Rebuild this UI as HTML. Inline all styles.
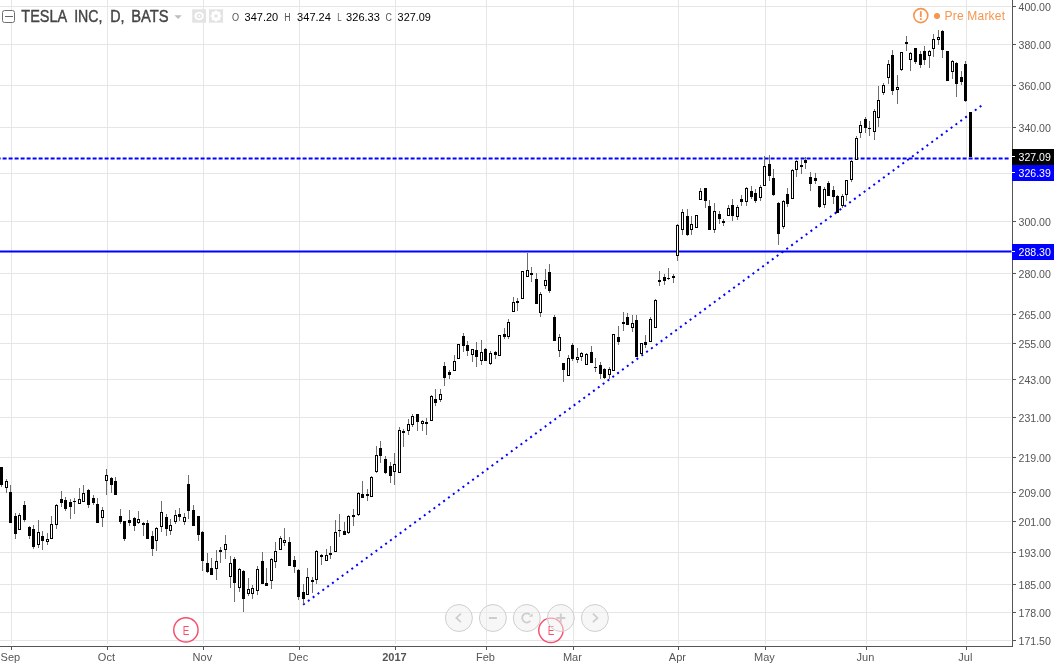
<!DOCTYPE html>
<html><head><meta charset="utf-8"><title>TESLA INC, D, BATS</title>
<style>html,body{margin:0;padding:0;background:#fff;}body{width:1054px;height:665px;overflow:hidden;font-family:"Liberation Sans",Arial,sans-serif;}svg{display:block;will-change:transform;opacity:0.999}text{font-family:"Liberation Sans",Arial,sans-serif;}</style>
</head><body>
<svg width="1054" height="665" viewBox="0 0 1054 665">
<rect width="1054" height="665" fill="#fff"/>
<g shape-rendering="crispEdges" fill="#e6e6e6">
<rect x="0" y="6" width="1011" height="1"/>
<rect x="0" y="44" width="1011" height="1"/>
<rect x="0" y="85" width="1011" height="1"/>
<rect x="0" y="127" width="1011" height="1"/>
<rect x="0" y="173" width="1011" height="1"/>
<rect x="0" y="221" width="1011" height="1"/>
<rect x="0" y="273" width="1011" height="1"/>
<rect x="0" y="314" width="1011" height="1"/>
<rect x="0" y="343" width="1011" height="1"/>
<rect x="0" y="379" width="1011" height="1"/>
<rect x="0" y="417" width="1011" height="1"/>
<rect x="0" y="457" width="1011" height="1"/>
<rect x="0" y="492" width="1011" height="1"/>
<rect x="0" y="521" width="1011" height="1"/>
<rect x="0" y="552" width="1011" height="1"/>
<rect x="0" y="584" width="1011" height="1"/>
<rect x="0" y="612" width="1011" height="1"/>
<rect x="0" y="640" width="1011" height="1"/>
<rect x="11" y="0" width="1" height="644"/>
<rect x="107" y="0" width="1" height="644"/>
<rect x="203" y="0" width="1" height="644"/>
<rect x="299" y="0" width="1" height="644"/>
<rect x="395" y="0" width="1" height="644"/>
<rect x="486" y="0" width="1" height="644"/>
<rect x="573" y="0" width="1" height="644"/>
<rect x="678" y="0" width="1" height="644"/>
<rect x="765" y="0" width="1" height="644"/>
<rect x="866" y="0" width="1" height="644"/>
<rect x="966" y="0" width="1" height="644"/>
</g>
<line x1="0" y1="251.5" x2="1011.5" y2="251.5" stroke="#0000ff" stroke-width="2"/>
<line x1="-3.4" y1="158.4" x2="1009" y2="158.4" stroke="#0000ff" stroke-width="2" stroke-dasharray="4 2"/>
<line x1="303.1" y1="604.7" x2="982.6" y2="104.8" stroke="#0000ff" stroke-width="2" stroke-dasharray="2 4"/>
<g shape-rendering="crispEdges" fill="#000">
<rect x="1" y="467" width="1" height="20" fill="#6e6e70"/>
<rect x="0" y="467" width="3" height="18"/>
<rect x="6" y="479" width="1" height="14" fill="#6e6e70"/>
<rect x="5" y="481" width="3" height="7"/>
<rect x="6" y="482" width="1" height="5" fill="#fff"/>
<rect x="10" y="485" width="1" height="38" fill="#6e6e70"/>
<rect x="9" y="492" width="3" height="31"/>
<rect x="15" y="513" width="1" height="26" fill="#6e6e70"/>
<rect x="14" y="516" width="3" height="18"/>
<rect x="19" y="513" width="1" height="17" fill="#6e6e70"/>
<rect x="18" y="515" width="3" height="15"/>
<rect x="19" y="516" width="1" height="13" fill="#fff"/>
<rect x="24" y="501" width="1" height="21" fill="#6e6e70"/>
<rect x="23" y="505" width="3" height="15"/>
<rect x="29" y="526" width="1" height="13" fill="#6e6e70"/>
<rect x="28" y="527" width="3" height="9"/>
<rect x="33" y="525" width="1" height="24" fill="#6e6e70"/>
<rect x="32" y="529" width="3" height="18"/>
<rect x="38" y="520" width="1" height="28" fill="#6e6e70"/>
<rect x="37" y="532" width="3" height="13"/>
<rect x="38" y="533" width="1" height="11" fill="#fff"/>
<rect x="42" y="531" width="1" height="19" fill="#6e6e70"/>
<rect x="41" y="536" width="3" height="5"/>
<rect x="47" y="533" width="1" height="12" fill="#6e6e70"/>
<rect x="46" y="539" width="3" height="3"/>
<rect x="47" y="540" width="1" height="1" fill="#fff"/>
<rect x="51" y="516" width="1" height="23" fill="#6e6e70"/>
<rect x="50" y="524" width="3" height="15"/>
<rect x="51" y="525" width="1" height="13" fill="#fff"/>
<rect x="56" y="504" width="1" height="25" fill="#6e6e70"/>
<rect x="55" y="505" width="3" height="20"/>
<rect x="56" y="506" width="1" height="18" fill="#fff"/>
<rect x="61" y="491" width="1" height="16" fill="#6e6e70"/>
<rect x="60" y="499" width="3" height="4"/>
<rect x="65" y="497" width="1" height="14" fill="#6e6e70"/>
<rect x="64" y="500" width="3" height="9"/>
<rect x="70" y="499" width="1" height="20" fill="#6e6e70"/>
<rect x="69" y="502" width="3" height="5"/>
<rect x="74" y="498" width="1" height="16" fill="#6e6e70"/>
<rect x="73" y="501" width="3" height="1"/>
<rect x="79" y="488" width="1" height="16" fill="#6e6e70"/>
<rect x="78" y="499" width="3" height="5"/>
<rect x="79" y="500" width="1" height="3" fill="#fff"/>
<rect x="83" y="485" width="1" height="17" fill="#6e6e70"/>
<rect x="82" y="493" width="3" height="9"/>
<rect x="83" y="494" width="1" height="7" fill="#fff"/>
<rect x="88" y="489" width="1" height="19" fill="#6e6e70"/>
<rect x="87" y="490" width="3" height="15"/>
<rect x="93" y="495" width="1" height="10" fill="#6e6e70"/>
<rect x="92" y="498" width="3" height="5"/>
<rect x="97" y="498" width="1" height="25" fill="#6e6e70"/>
<rect x="96" y="504" width="3" height="19"/>
<rect x="102" y="507" width="1" height="20" fill="#6e6e70"/>
<rect x="101" y="510" width="3" height="8"/>
<rect x="102" y="511" width="1" height="6" fill="#fff"/>
<rect x="106" y="469" width="1" height="26" fill="#6e6e70"/>
<rect x="105" y="475" width="3" height="6"/>
<rect x="106" y="476" width="1" height="4" fill="#fff"/>
<rect x="111" y="477" width="1" height="16" fill="#6e6e70"/>
<rect x="110" y="478" width="3" height="7"/>
<rect x="115" y="477" width="1" height="18" fill="#6e6e70"/>
<rect x="114" y="481" width="3" height="14"/>
<rect x="120" y="509" width="1" height="15" fill="#6e6e70"/>
<rect x="119" y="516" width="3" height="6"/>
<rect x="124" y="521" width="1" height="20" fill="#6e6e70"/>
<rect x="123" y="521" width="3" height="18"/>
<rect x="129" y="510" width="1" height="16" fill="#6e6e70"/>
<rect x="128" y="520" width="3" height="3"/>
<rect x="134" y="517" width="1" height="14" fill="#6e6e70"/>
<rect x="133" y="518" width="3" height="8"/>
<rect x="138" y="511" width="1" height="13" fill="#6e6e70"/>
<rect x="137" y="519" width="3" height="4"/>
<rect x="138" y="520" width="1" height="2" fill="#fff"/>
<rect x="143" y="522" width="1" height="14" fill="#6e6e70"/>
<rect x="142" y="523" width="3" height="2"/>
<rect x="147" y="520" width="1" height="19" fill="#6e6e70"/>
<rect x="146" y="523" width="3" height="16"/>
<rect x="152" y="531" width="1" height="25" fill="#6e6e70"/>
<rect x="151" y="536" width="3" height="13"/>
<rect x="156" y="527" width="1" height="24" fill="#6e6e70"/>
<rect x="155" y="528" width="3" height="13"/>
<rect x="156" y="529" width="1" height="11" fill="#fff"/>
<rect x="161" y="501" width="1" height="31" fill="#6e6e70"/>
<rect x="160" y="512" width="3" height="15"/>
<rect x="161" y="513" width="1" height="13" fill="#fff"/>
<rect x="166" y="514" width="1" height="22" fill="#6e6e70"/>
<rect x="165" y="517" width="3" height="12"/>
<rect x="170" y="519" width="1" height="16" fill="#6e6e70"/>
<rect x="169" y="525" width="3" height="6"/>
<rect x="170" y="526" width="1" height="4" fill="#fff"/>
<rect x="175" y="510" width="1" height="14" fill="#6e6e70"/>
<rect x="174" y="515" width="3" height="7"/>
<rect x="175" y="516" width="1" height="5" fill="#fff"/>
<rect x="179" y="508" width="1" height="13" fill="#6e6e70"/>
<rect x="178" y="514" width="3" height="3"/>
<rect x="184" y="513" width="1" height="12" fill="#6e6e70"/>
<rect x="183" y="517" width="3" height="5"/>
<rect x="184" y="518" width="1" height="3" fill="#fff"/>
<rect x="188" y="475" width="1" height="44" fill="#6e6e70"/>
<rect x="187" y="484" width="3" height="27"/>
<rect x="193" y="505" width="1" height="21" fill="#6e6e70"/>
<rect x="192" y="510" width="3" height="16"/>
<rect x="198" y="516" width="1" height="25" fill="#6e6e70"/>
<rect x="197" y="516" width="3" height="19"/>
<rect x="202" y="531" width="1" height="40" fill="#6e6e70"/>
<rect x="201" y="532" width="3" height="29"/>
<rect x="207" y="553" width="1" height="20" fill="#6e6e70"/>
<rect x="206" y="563" width="3" height="9"/>
<rect x="211" y="558" width="1" height="17" fill="#6e6e70"/>
<rect x="210" y="568" width="3" height="7"/>
<rect x="216" y="550" width="1" height="30" fill="#6e6e70"/>
<rect x="215" y="561" width="3" height="8"/>
<rect x="216" y="562" width="1" height="6" fill="#fff"/>
<rect x="220" y="547" width="1" height="16" fill="#6e6e70"/>
<rect x="219" y="550" width="3" height="2"/>
<rect x="225" y="535" width="1" height="24" fill="#6e6e70"/>
<rect x="224" y="544" width="3" height="6"/>
<rect x="225" y="545" width="1" height="4" fill="#fff"/>
<rect x="230" y="556" width="1" height="32" fill="#6e6e70"/>
<rect x="229" y="563" width="3" height="14"/>
<rect x="230" y="564" width="1" height="12" fill="#fff"/>
<rect x="234" y="557" width="1" height="45" fill="#6e6e70"/>
<rect x="233" y="559" width="3" height="24"/>
<rect x="239" y="568" width="1" height="24" fill="#6e6e70"/>
<rect x="238" y="569" width="3" height="19"/>
<rect x="239" y="570" width="1" height="17" fill="#fff"/>
<rect x="243" y="570" width="1" height="42" fill="#6e6e70"/>
<rect x="242" y="571" width="3" height="28"/>
<rect x="248" y="578" width="1" height="18" fill="#6e6e70"/>
<rect x="247" y="589" width="3" height="5"/>
<rect x="248" y="590" width="1" height="3" fill="#fff"/>
<rect x="252" y="585" width="1" height="14" fill="#6e6e70"/>
<rect x="251" y="588" width="3" height="6"/>
<rect x="252" y="589" width="1" height="4" fill="#fff"/>
<rect x="257" y="566" width="1" height="29" fill="#6e6e70"/>
<rect x="256" y="569" width="3" height="22"/>
<rect x="257" y="570" width="1" height="20" fill="#fff"/>
<rect x="262" y="552" width="1" height="32" fill="#6e6e70"/>
<rect x="261" y="561" width="3" height="23"/>
<rect x="266" y="568" width="1" height="18" fill="#6e6e70"/>
<rect x="265" y="583" width="3" height="3"/>
<rect x="271" y="558" width="1" height="31" fill="#6e6e70"/>
<rect x="270" y="559" width="3" height="22"/>
<rect x="271" y="560" width="1" height="20" fill="#fff"/>
<rect x="275" y="542" width="1" height="26" fill="#6e6e70"/>
<rect x="274" y="551" width="3" height="11"/>
<rect x="275" y="552" width="1" height="9" fill="#fff"/>
<rect x="280" y="536" width="1" height="14" fill="#6e6e70"/>
<rect x="279" y="538" width="3" height="12"/>
<rect x="280" y="539" width="1" height="10" fill="#fff"/>
<rect x="284" y="528" width="1" height="18" fill="#6e6e70"/>
<rect x="283" y="540" width="3" height="3"/>
<rect x="284" y="541" width="1" height="1" fill="#fff"/>
<rect x="289" y="537" width="1" height="29" fill="#6e6e70"/>
<rect x="288" y="542" width="3" height="24"/>
<rect x="294" y="556" width="1" height="17" fill="#6e6e70"/>
<rect x="293" y="560" width="3" height="7"/>
<rect x="298" y="569" width="1" height="31" fill="#6e6e70"/>
<rect x="297" y="570" width="3" height="27"/>
<rect x="303" y="584" width="1" height="20" fill="#6e6e70"/>
<rect x="302" y="592" width="3" height="7"/>
<rect x="307" y="568" width="1" height="27" fill="#6e6e70"/>
<rect x="306" y="577" width="3" height="18"/>
<rect x="307" y="578" width="1" height="16" fill="#fff"/>
<rect x="312" y="577" width="1" height="16" fill="#6e6e70"/>
<rect x="311" y="580" width="3" height="2"/>
<rect x="316" y="550" width="1" height="34" fill="#6e6e70"/>
<rect x="315" y="551" width="3" height="29"/>
<rect x="316" y="552" width="1" height="27" fill="#fff"/>
<rect x="321" y="554" width="1" height="11" fill="#6e6e70"/>
<rect x="320" y="555" width="3" height="2"/>
<rect x="326" y="549" width="1" height="12" fill="#6e6e70"/>
<rect x="325" y="555" width="3" height="6"/>
<rect x="326" y="556" width="1" height="4" fill="#fff"/>
<rect x="330" y="546" width="1" height="13" fill="#6e6e70"/>
<rect x="329" y="553" width="3" height="2"/>
<rect x="335" y="520" width="1" height="32" fill="#6e6e70"/>
<rect x="334" y="532" width="3" height="20"/>
<rect x="335" y="533" width="1" height="18" fill="#fff"/>
<rect x="339" y="514" width="1" height="23" fill="#6e6e70"/>
<rect x="338" y="530" width="3" height="1"/>
<rect x="344" y="522" width="1" height="13" fill="#6e6e70"/>
<rect x="343" y="531" width="3" height="4"/>
<rect x="348" y="515" width="1" height="19" fill="#6e6e70"/>
<rect x="347" y="516" width="3" height="17"/>
<rect x="348" y="517" width="1" height="15" fill="#fff"/>
<rect x="353" y="509" width="1" height="17" fill="#6e6e70"/>
<rect x="352" y="515" width="3" height="2"/>
<rect x="358" y="492" width="1" height="24" fill="#6e6e70"/>
<rect x="357" y="493" width="3" height="22"/>
<rect x="358" y="494" width="1" height="20" fill="#fff"/>
<rect x="362" y="481" width="1" height="17" fill="#6e6e70"/>
<rect x="361" y="494" width="3" height="4"/>
<rect x="367" y="489" width="1" height="12" fill="#6e6e70"/>
<rect x="366" y="494" width="3" height="2"/>
<rect x="371" y="476" width="1" height="21" fill="#6e6e70"/>
<rect x="370" y="477" width="3" height="20"/>
<rect x="371" y="478" width="1" height="18" fill="#fff"/>
<rect x="376" y="446" width="1" height="27" fill="#6e6e70"/>
<rect x="375" y="455" width="3" height="17"/>
<rect x="376" y="456" width="1" height="15" fill="#fff"/>
<rect x="380" y="441" width="1" height="22" fill="#6e6e70"/>
<rect x="379" y="448" width="3" height="8"/>
<rect x="385" y="456" width="1" height="18" fill="#6e6e70"/>
<rect x="384" y="459" width="3" height="14"/>
<rect x="390" y="462" width="1" height="21" fill="#6e6e70"/>
<rect x="389" y="466" width="3" height="10"/>
<rect x="394" y="453" width="1" height="32" fill="#6e6e70"/>
<rect x="393" y="464" width="3" height="8"/>
<rect x="394" y="465" width="1" height="6" fill="#fff"/>
<rect x="399" y="427" width="1" height="46" fill="#6e6e70"/>
<rect x="398" y="430" width="3" height="43"/>
<rect x="399" y="431" width="1" height="41" fill="#fff"/>
<rect x="403" y="429" width="1" height="18" fill="#6e6e70"/>
<rect x="402" y="431" width="3" height="2"/>
<rect x="408" y="419" width="1" height="16" fill="#6e6e70"/>
<rect x="407" y="424" width="3" height="7"/>
<rect x="408" y="425" width="1" height="5" fill="#fff"/>
<rect x="412" y="414" width="1" height="13" fill="#6e6e70"/>
<rect x="411" y="416" width="3" height="9"/>
<rect x="412" y="417" width="1" height="7" fill="#fff"/>
<rect x="417" y="414" width="1" height="17" fill="#6e6e70"/>
<rect x="416" y="414" width="3" height="8"/>
<rect x="422" y="420" width="1" height="11" fill="#6e6e70"/>
<rect x="421" y="421" width="3" height="3"/>
<rect x="422" y="422" width="1" height="1" fill="#fff"/>
<rect x="426" y="418" width="1" height="17" fill="#6e6e70"/>
<rect x="425" y="422" width="3" height="2"/>
<rect x="431" y="395" width="1" height="26" fill="#6e6e70"/>
<rect x="430" y="396" width="3" height="25"/>
<rect x="431" y="397" width="1" height="23" fill="#fff"/>
<rect x="435" y="389" width="1" height="17" fill="#6e6e70"/>
<rect x="434" y="399" width="3" height="4"/>
<rect x="440" y="389" width="1" height="13" fill="#6e6e70"/>
<rect x="439" y="394" width="3" height="6"/>
<rect x="440" y="395" width="1" height="4" fill="#fff"/>
<rect x="444" y="362" width="1" height="24" fill="#6e6e70"/>
<rect x="443" y="366" width="3" height="12"/>
<rect x="449" y="370" width="1" height="9" fill="#6e6e70"/>
<rect x="448" y="372" width="3" height="3"/>
<rect x="454" y="355" width="1" height="16" fill="#6e6e70"/>
<rect x="453" y="361" width="3" height="10"/>
<rect x="454" y="362" width="1" height="8" fill="#fff"/>
<rect x="458" y="344" width="1" height="15" fill="#6e6e70"/>
<rect x="457" y="344" width="3" height="15"/>
<rect x="458" y="345" width="1" height="13" fill="#fff"/>
<rect x="463" y="333" width="1" height="19" fill="#6e6e70"/>
<rect x="462" y="336" width="3" height="10"/>
<rect x="467" y="341" width="1" height="15" fill="#6e6e70"/>
<rect x="466" y="345" width="3" height="6"/>
<rect x="472" y="349" width="1" height="13" fill="#6e6e70"/>
<rect x="471" y="349" width="3" height="6"/>
<rect x="472" y="350" width="1" height="4" fill="#fff"/>
<rect x="476" y="342" width="1" height="25" fill="#6e6e70"/>
<rect x="475" y="350" width="3" height="7"/>
<rect x="481" y="340" width="1" height="25" fill="#6e6e70"/>
<rect x="480" y="352" width="3" height="9"/>
<rect x="481" y="353" width="1" height="7" fill="#fff"/>
<rect x="485" y="348" width="1" height="13" fill="#6e6e70"/>
<rect x="484" y="349" width="3" height="12"/>
<rect x="490" y="351" width="1" height="14" fill="#6e6e70"/>
<rect x="489" y="353" width="3" height="11"/>
<rect x="490" y="354" width="1" height="9" fill="#fff"/>
<rect x="495" y="351" width="1" height="8" fill="#6e6e70"/>
<rect x="494" y="352" width="3" height="3"/>
<rect x="499" y="335" width="1" height="21" fill="#6e6e70"/>
<rect x="498" y="335" width="3" height="21"/>
<rect x="499" y="336" width="1" height="19" fill="#fff"/>
<rect x="504" y="328" width="1" height="11" fill="#6e6e70"/>
<rect x="503" y="334" width="3" height="3"/>
<rect x="508" y="319" width="1" height="20" fill="#6e6e70"/>
<rect x="507" y="322" width="3" height="15"/>
<rect x="508" y="323" width="1" height="13" fill="#fff"/>
<rect x="513" y="297" width="1" height="15" fill="#6e6e70"/>
<rect x="512" y="302" width="3" height="10"/>
<rect x="513" y="303" width="1" height="8" fill="#fff"/>
<rect x="517" y="298" width="1" height="13" fill="#6e6e70"/>
<rect x="516" y="301" width="3" height="2"/>
<rect x="522" y="271" width="1" height="28" fill="#6e6e70"/>
<rect x="521" y="271" width="3" height="28"/>
<rect x="522" y="272" width="1" height="26" fill="#fff"/>
<rect x="527" y="253" width="1" height="24" fill="#6e6e70"/>
<rect x="526" y="270" width="3" height="7"/>
<rect x="527" y="271" width="1" height="5" fill="#fff"/>
<rect x="531" y="267" width="1" height="15" fill="#6e6e70"/>
<rect x="530" y="273" width="3" height="2"/>
<rect x="536" y="273" width="1" height="31" fill="#6e6e70"/>
<rect x="535" y="279" width="3" height="25"/>
<rect x="540" y="292" width="1" height="25" fill="#6e6e70"/>
<rect x="539" y="294" width="3" height="19"/>
<rect x="540" y="295" width="1" height="17" fill="#fff"/>
<rect x="545" y="269" width="1" height="20" fill="#6e6e70"/>
<rect x="544" y="280" width="3" height="6"/>
<rect x="545" y="281" width="1" height="4" fill="#fff"/>
<rect x="549" y="264" width="1" height="29" fill="#6e6e70"/>
<rect x="548" y="272" width="3" height="19"/>
<rect x="554" y="315" width="1" height="26" fill="#6e6e70"/>
<rect x="553" y="317" width="3" height="24"/>
<rect x="559" y="334" width="1" height="23" fill="#6e6e70"/>
<rect x="558" y="337" width="3" height="14"/>
<rect x="559" y="338" width="1" height="12" fill="#fff"/>
<rect x="563" y="363" width="1" height="19" fill="#6e6e70"/>
<rect x="562" y="363" width="3" height="7"/>
<rect x="568" y="355" width="1" height="21" fill="#6e6e70"/>
<rect x="567" y="358" width="3" height="18"/>
<rect x="568" y="359" width="1" height="16" fill="#fff"/>
<rect x="572" y="343" width="1" height="18" fill="#6e6e70"/>
<rect x="571" y="345" width="3" height="14"/>
<rect x="577" y="348" width="1" height="15" fill="#6e6e70"/>
<rect x="576" y="357" width="3" height="3"/>
<rect x="577" y="358" width="1" height="1" fill="#fff"/>
<rect x="581" y="352" width="1" height="9" fill="#6e6e70"/>
<rect x="580" y="353" width="3" height="4"/>
<rect x="581" y="354" width="1" height="2" fill="#fff"/>
<rect x="586" y="353" width="1" height="12" fill="#6e6e70"/>
<rect x="585" y="354" width="3" height="11"/>
<rect x="586" y="355" width="1" height="9" fill="#fff"/>
<rect x="591" y="346" width="1" height="17" fill="#6e6e70"/>
<rect x="590" y="352" width="3" height="11"/>
<rect x="595" y="358" width="1" height="14" fill="#6e6e70"/>
<rect x="594" y="367" width="3" height="1"/>
<rect x="600" y="362" width="1" height="17" fill="#6e6e70"/>
<rect x="599" y="365" width="3" height="9"/>
<rect x="604" y="368" width="1" height="11" fill="#6e6e70"/>
<rect x="603" y="369" width="3" height="9"/>
<rect x="609" y="367" width="1" height="12" fill="#6e6e70"/>
<rect x="608" y="369" width="3" height="6"/>
<rect x="609" y="370" width="1" height="4" fill="#fff"/>
<rect x="613" y="334" width="1" height="37" fill="#6e6e70"/>
<rect x="612" y="334" width="3" height="37"/>
<rect x="613" y="335" width="1" height="35" fill="#fff"/>
<rect x="618" y="326" width="1" height="19" fill="#6e6e70"/>
<rect x="617" y="337" width="3" height="5"/>
<rect x="623" y="312" width="1" height="19" fill="#6e6e70"/>
<rect x="622" y="322" width="3" height="2"/>
<rect x="627" y="313" width="1" height="12" fill="#6e6e70"/>
<rect x="626" y="317" width="3" height="8"/>
<rect x="632" y="315" width="1" height="17" fill="#6e6e70"/>
<rect x="631" y="323" width="3" height="5"/>
<rect x="632" y="324" width="1" height="3" fill="#fff"/>
<rect x="636" y="315" width="1" height="42" fill="#6e6e70"/>
<rect x="635" y="320" width="3" height="37"/>
<rect x="641" y="343" width="1" height="13" fill="#6e6e70"/>
<rect x="640" y="343" width="3" height="11"/>
<rect x="641" y="344" width="1" height="9" fill="#fff"/>
<rect x="645" y="335" width="1" height="13" fill="#6e6e70"/>
<rect x="644" y="342" width="3" height="3"/>
<rect x="650" y="317" width="1" height="25" fill="#6e6e70"/>
<rect x="649" y="319" width="3" height="23"/>
<rect x="650" y="320" width="1" height="21" fill="#fff"/>
<rect x="655" y="299" width="1" height="29" fill="#6e6e70"/>
<rect x="654" y="300" width="3" height="28"/>
<rect x="655" y="301" width="1" height="26" fill="#fff"/>
<rect x="659" y="271" width="1" height="15" fill="#6e6e70"/>
<rect x="658" y="280" width="3" height="2"/>
<rect x="664" y="274" width="1" height="11" fill="#6e6e70"/>
<rect x="663" y="277" width="3" height="4"/>
<rect x="668" y="268" width="1" height="12" fill="#6e6e70"/>
<rect x="667" y="278" width="3" height="1"/>
<rect x="673" y="274" width="1" height="9" fill="#6e6e70"/>
<rect x="672" y="276" width="3" height="2"/>
<rect x="677" y="224" width="1" height="37" fill="#6e6e70"/>
<rect x="676" y="225" width="3" height="31"/>
<rect x="677" y="226" width="1" height="29" fill="#fff"/>
<rect x="682" y="209" width="1" height="26" fill="#6e6e70"/>
<rect x="681" y="212" width="3" height="18"/>
<rect x="682" y="213" width="1" height="16" fill="#fff"/>
<rect x="687" y="209" width="1" height="27" fill="#6e6e70"/>
<rect x="686" y="216" width="3" height="19"/>
<rect x="691" y="216" width="1" height="19" fill="#6e6e70"/>
<rect x="690" y="224" width="3" height="6"/>
<rect x="691" y="225" width="1" height="4" fill="#fff"/>
<rect x="696" y="215" width="1" height="13" fill="#6e6e70"/>
<rect x="695" y="215" width="3" height="13"/>
<rect x="696" y="216" width="1" height="11" fill="#fff"/>
<rect x="700" y="188" width="1" height="12" fill="#6e6e70"/>
<rect x="699" y="191" width="3" height="9"/>
<rect x="700" y="192" width="1" height="7" fill="#fff"/>
<rect x="705" y="188" width="1" height="20" fill="#6e6e70"/>
<rect x="704" y="188" width="3" height="13"/>
<rect x="709" y="200" width="1" height="30" fill="#6e6e70"/>
<rect x="708" y="206" width="3" height="24"/>
<rect x="714" y="203" width="1" height="30" fill="#6e6e70"/>
<rect x="713" y="211" width="3" height="19"/>
<rect x="714" y="212" width="1" height="17" fill="#fff"/>
<rect x="719" y="211" width="1" height="13" fill="#6e6e70"/>
<rect x="718" y="214" width="3" height="5"/>
<rect x="723" y="219" width="1" height="7" fill="#6e6e70"/>
<rect x="722" y="221" width="3" height="2"/>
<rect x="728" y="205" width="1" height="11" fill="#6e6e70"/>
<rect x="727" y="208" width="3" height="8"/>
<rect x="728" y="209" width="1" height="6" fill="#fff"/>
<rect x="732" y="199" width="1" height="22" fill="#6e6e70"/>
<rect x="731" y="205" width="3" height="11"/>
<rect x="737" y="205" width="1" height="15" fill="#6e6e70"/>
<rect x="736" y="207" width="3" height="10"/>
<rect x="737" y="208" width="1" height="8" fill="#fff"/>
<rect x="741" y="195" width="1" height="11" fill="#6e6e70"/>
<rect x="740" y="199" width="3" height="3"/>
<rect x="746" y="187" width="1" height="19" fill="#6e6e70"/>
<rect x="745" y="188" width="3" height="14"/>
<rect x="746" y="189" width="1" height="12" fill="#fff"/>
<rect x="751" y="186" width="1" height="13" fill="#6e6e70"/>
<rect x="750" y="191" width="3" height="6"/>
<rect x="755" y="189" width="1" height="14" fill="#6e6e70"/>
<rect x="754" y="193" width="3" height="8"/>
<rect x="760" y="185" width="1" height="16" fill="#6e6e70"/>
<rect x="759" y="187" width="3" height="11"/>
<rect x="760" y="188" width="1" height="9" fill="#fff"/>
<rect x="764" y="156" width="1" height="30" fill="#6e6e70"/>
<rect x="763" y="166" width="3" height="20"/>
<rect x="764" y="167" width="1" height="18" fill="#fff"/>
<rect x="769" y="155" width="1" height="26" fill="#6e6e70"/>
<rect x="768" y="164" width="3" height="12"/>
<rect x="773" y="169" width="1" height="27" fill="#6e6e70"/>
<rect x="772" y="178" width="3" height="17"/>
<rect x="778" y="202" width="1" height="43" fill="#6e6e70"/>
<rect x="777" y="203" width="3" height="31"/>
<rect x="783" y="200" width="1" height="29" fill="#6e6e70"/>
<rect x="782" y="201" width="3" height="26"/>
<rect x="783" y="202" width="1" height="24" fill="#fff"/>
<rect x="787" y="188" width="1" height="19" fill="#6e6e70"/>
<rect x="786" y="194" width="3" height="10"/>
<rect x="792" y="169" width="1" height="30" fill="#6e6e70"/>
<rect x="791" y="170" width="3" height="29"/>
<rect x="792" y="171" width="1" height="27" fill="#fff"/>
<rect x="796" y="160" width="1" height="17" fill="#6e6e70"/>
<rect x="795" y="161" width="3" height="9"/>
<rect x="796" y="162" width="1" height="7" fill="#fff"/>
<rect x="801" y="159" width="1" height="15" fill="#6e6e70"/>
<rect x="800" y="165" width="3" height="2"/>
<rect x="805" y="157" width="1" height="12" fill="#6e6e70"/>
<rect x="804" y="160" width="3" height="3"/>
<rect x="810" y="172" width="1" height="19" fill="#6e6e70"/>
<rect x="809" y="177" width="3" height="7"/>
<rect x="815" y="173" width="1" height="11" fill="#6e6e70"/>
<rect x="814" y="178" width="3" height="3"/>
<rect x="819" y="186" width="1" height="22" fill="#6e6e70"/>
<rect x="818" y="186" width="3" height="21"/>
<rect x="824" y="187" width="1" height="21" fill="#6e6e70"/>
<rect x="823" y="189" width="3" height="16"/>
<rect x="824" y="190" width="1" height="14" fill="#fff"/>
<rect x="828" y="181" width="1" height="15" fill="#6e6e70"/>
<rect x="827" y="183" width="3" height="13"/>
<rect x="833" y="186" width="1" height="18" fill="#6e6e70"/>
<rect x="832" y="190" width="3" height="7"/>
<rect x="837" y="195" width="1" height="18" fill="#6e6e70"/>
<rect x="836" y="196" width="3" height="17"/>
<rect x="842" y="194" width="1" height="14" fill="#6e6e70"/>
<rect x="841" y="196" width="3" height="10"/>
<rect x="842" y="197" width="1" height="8" fill="#fff"/>
<rect x="846" y="180" width="1" height="21" fill="#6e6e70"/>
<rect x="845" y="180" width="3" height="15"/>
<rect x="846" y="181" width="1" height="13" fill="#fff"/>
<rect x="851" y="160" width="1" height="22" fill="#6e6e70"/>
<rect x="850" y="161" width="3" height="19"/>
<rect x="851" y="162" width="1" height="17" fill="#fff"/>
<rect x="856" y="136" width="1" height="24" fill="#6e6e70"/>
<rect x="855" y="138" width="3" height="22"/>
<rect x="856" y="139" width="1" height="20" fill="#fff"/>
<rect x="860" y="121" width="1" height="17" fill="#6e6e70"/>
<rect x="859" y="125" width="3" height="8"/>
<rect x="860" y="126" width="1" height="6" fill="#fff"/>
<rect x="865" y="117" width="1" height="16" fill="#6e6e70"/>
<rect x="864" y="119" width="3" height="9"/>
<rect x="869" y="121" width="1" height="15" fill="#6e6e70"/>
<rect x="868" y="128" width="3" height="1"/>
<rect x="874" y="109" width="1" height="31" fill="#6e6e70"/>
<rect x="873" y="111" width="3" height="21"/>
<rect x="874" y="112" width="1" height="19" fill="#fff"/>
<rect x="878" y="86" width="1" height="41" fill="#6e6e70"/>
<rect x="877" y="100" width="3" height="18"/>
<rect x="878" y="101" width="1" height="16" fill="#fff"/>
<rect x="883" y="83" width="1" height="12" fill="#6e6e70"/>
<rect x="882" y="85" width="3" height="8"/>
<rect x="883" y="86" width="1" height="6" fill="#fff"/>
<rect x="888" y="60" width="1" height="24" fill="#6e6e70"/>
<rect x="887" y="64" width="3" height="14"/>
<rect x="888" y="65" width="1" height="12" fill="#fff"/>
<rect x="892" y="50" width="1" height="45" fill="#6e6e70"/>
<rect x="891" y="55" width="3" height="36"/>
<rect x="897" y="75" width="1" height="29" fill="#6e6e70"/>
<rect x="896" y="87" width="3" height="3"/>
<rect x="897" y="88" width="1" height="1" fill="#fff"/>
<rect x="901" y="52" width="1" height="19" fill="#6e6e70"/>
<rect x="900" y="52" width="3" height="18"/>
<rect x="901" y="53" width="1" height="16" fill="#fff"/>
<rect x="906" y="36" width="1" height="15" fill="#6e6e70"/>
<rect x="905" y="42" width="3" height="2"/>
<rect x="910" y="52" width="1" height="19" fill="#6e6e70"/>
<rect x="909" y="53" width="3" height="7"/>
<rect x="910" y="54" width="1" height="5" fill="#fff"/>
<rect x="915" y="48" width="1" height="16" fill="#6e6e70"/>
<rect x="914" y="48" width="3" height="14"/>
<rect x="920" y="51" width="1" height="17" fill="#6e6e70"/>
<rect x="919" y="54" width="3" height="11"/>
<rect x="924" y="46" width="1" height="19" fill="#6e6e70"/>
<rect x="923" y="51" width="3" height="9"/>
<rect x="929" y="50" width="1" height="18" fill="#6e6e70"/>
<rect x="928" y="51" width="3" height="5"/>
<rect x="929" y="52" width="1" height="3" fill="#fff"/>
<rect x="933" y="34" width="1" height="23" fill="#6e6e70"/>
<rect x="932" y="39" width="3" height="10"/>
<rect x="933" y="40" width="1" height="8" fill="#fff"/>
<rect x="938" y="30" width="1" height="15" fill="#6e6e70"/>
<rect x="937" y="37" width="3" height="3"/>
<rect x="938" y="38" width="1" height="1" fill="#fff"/>
<rect x="942" y="30" width="1" height="28" fill="#6e6e70"/>
<rect x="941" y="31" width="3" height="19"/>
<rect x="947" y="51" width="1" height="30" fill="#6e6e70"/>
<rect x="946" y="51" width="3" height="30"/>
<rect x="952" y="60" width="1" height="19" fill="#6e6e70"/>
<rect x="951" y="61" width="3" height="11"/>
<rect x="952" y="62" width="1" height="9" fill="#fff"/>
<rect x="956" y="62" width="1" height="35" fill="#6e6e70"/>
<rect x="955" y="63" width="3" height="21"/>
<rect x="961" y="71" width="1" height="14" fill="#6e6e70"/>
<rect x="960" y="77" width="3" height="5"/>
<rect x="965" y="61" width="1" height="41" fill="#6e6e70"/>
<rect x="964" y="64" width="3" height="37"/>
<rect x="970" y="112" width="1" height="45" fill="#6e6e70"/>
<rect x="969" y="112" width="3" height="45"/>
</g>
<g shape-rendering="crispEdges" fill="#555555">
<rect x="1012" y="0" width="1" height="647"/>
<rect x="0" y="646" width="1013" height="1"/>
<rect x="1013" y="6" width="3" height="1"/>
<rect x="1013" y="44" width="3" height="1"/>
<rect x="1013" y="85" width="3" height="1"/>
<rect x="1013" y="127" width="3" height="1"/>
<rect x="1013" y="221" width="3" height="1"/>
<rect x="1013" y="273" width="3" height="1"/>
<rect x="1013" y="314" width="3" height="1"/>
<rect x="1013" y="343" width="3" height="1"/>
<rect x="1013" y="379" width="3" height="1"/>
<rect x="1013" y="417" width="3" height="1"/>
<rect x="1013" y="457" width="3" height="1"/>
<rect x="1013" y="492" width="3" height="1"/>
<rect x="1013" y="521" width="3" height="1"/>
<rect x="1013" y="552" width="3" height="1"/>
<rect x="1013" y="584" width="3" height="1"/>
<rect x="1013" y="612" width="3" height="1"/>
<rect x="1013" y="640" width="3" height="1"/>
<rect x="11" y="647" width="1" height="3"/>
<rect x="107" y="647" width="1" height="3"/>
<rect x="203" y="647" width="1" height="3"/>
<rect x="299" y="647" width="1" height="3"/>
<rect x="395" y="647" width="1" height="3"/>
<rect x="486" y="647" width="1" height="3"/>
<rect x="573" y="647" width="1" height="3"/>
<rect x="678" y="647" width="1" height="3"/>
<rect x="765" y="647" width="1" height="3"/>
<rect x="866" y="647" width="1" height="3"/>
<rect x="966" y="647" width="1" height="3"/>
</g>
<g font-size="11" fill="#555">
<text x="1018.5" y="11.0" textLength="32.4" lengthAdjust="spacingAndGlyphs">400.00</text>
<text x="1018.5" y="49.0" textLength="32.4" lengthAdjust="spacingAndGlyphs">380.00</text>
<text x="1018.5" y="90.0" textLength="32.4" lengthAdjust="spacingAndGlyphs">360.00</text>
<text x="1018.5" y="132.0" textLength="32.4" lengthAdjust="spacingAndGlyphs">340.00</text>
<text x="1018.5" y="226.0" textLength="32.4" lengthAdjust="spacingAndGlyphs">300.00</text>
<text x="1018.5" y="278.0" textLength="32.4" lengthAdjust="spacingAndGlyphs">280.00</text>
<text x="1018.5" y="319.0" textLength="32.4" lengthAdjust="spacingAndGlyphs">265.00</text>
<text x="1018.5" y="348.0" textLength="32.4" lengthAdjust="spacingAndGlyphs">255.00</text>
<text x="1018.5" y="384.0" textLength="32.4" lengthAdjust="spacingAndGlyphs">243.00</text>
<text x="1018.5" y="422.0" textLength="32.4" lengthAdjust="spacingAndGlyphs">231.00</text>
<text x="1018.5" y="462.0" textLength="32.4" lengthAdjust="spacingAndGlyphs">219.00</text>
<text x="1018.5" y="497.0" textLength="32.4" lengthAdjust="spacingAndGlyphs">209.00</text>
<text x="1018.5" y="526.0" textLength="32.4" lengthAdjust="spacingAndGlyphs">201.00</text>
<text x="1018.5" y="557.0" textLength="32.4" lengthAdjust="spacingAndGlyphs">193.00</text>
<text x="1018.5" y="589.0" textLength="32.4" lengthAdjust="spacingAndGlyphs">185.00</text>
<text x="1018.5" y="617.0" textLength="32.4" lengthAdjust="spacingAndGlyphs">178.00</text>
<text x="1018.5" y="645.0" textLength="32.4" lengthAdjust="spacingAndGlyphs">171.50</text>
</g>
<g shape-rendering="crispEdges">
<rect x="1012" y="149" width="42" height="16" fill="#000"/>
<rect x="1012" y="165" width="42" height="16" fill="#0000ff"/>
<rect x="1012" y="244" width="42" height="16" fill="#0000ff"/>
<rect x="1012" y="156" width="3" height="1" fill="#fff"/>
<rect x="1012" y="172" width="3" height="1" fill="#fff"/>
<rect x="1012" y="251" width="3" height="1" fill="#fff"/>
</g>
<g font-size="11" fill="#fff">
<text x="1018.5" y="160.6" textLength="32.4" lengthAdjust="spacingAndGlyphs">327.09</text>
<text x="1018.5" y="176.6" textLength="32.4" lengthAdjust="spacingAndGlyphs">326.39</text>
<text x="1018.5" y="255.6" textLength="32.4" lengthAdjust="spacingAndGlyphs">288.30</text>
</g>
<g font-size="11" fill="#555" text-anchor="middle">
<text x="10.4" y="660.9">Sep</text>
<text x="106.4" y="660.9">Oct</text>
<text x="202.4" y="660.9">Nov</text>
<text x="298.4" y="660.9">Dec</text>
<text x="394.4" y="660.9" font-weight="bold">2017</text>
<text x="485.4" y="660.9">Feb</text>
<text x="572.4" y="660.9">Mar</text>
<text x="677.4" y="660.9">Apr</text>
<text x="764.4" y="660.9">May</text>
<text x="865.4" y="660.9">Jun</text>
<text x="965.4" y="660.9">Jul</text>
</g>
<circle cx="185.9" cy="629.9" r="12.15" fill="none" stroke="#f84d6d" stroke-width="1.45"/>
<text x="186.0" y="634.8" font-size="12" fill="#f84d6d" text-anchor="middle" textLength="6.6" lengthAdjust="spacingAndGlyphs">E</text>
<circle cx="550.9" cy="630.3" r="12.15" fill="none" stroke="#f84d6d" stroke-width="1.45"/>
<text x="551.0" y="635.2" font-size="12" fill="#f84d6d" text-anchor="middle" textLength="6.6" lengthAdjust="spacingAndGlyphs">E</text>
<g>
<circle cx="458.9" cy="618.0" r="13.5" fill="#f0f0f0" fill-opacity="0.5" stroke="#cfcfcf" stroke-width="1"/>
<circle cx="492.9" cy="618.0" r="13.5" fill="#f0f0f0" fill-opacity="0.5" stroke="#cfcfcf" stroke-width="1"/>
<circle cx="526.8" cy="618.0" r="13.5" fill="#f0f0f0" fill-opacity="0.5" stroke="#cfcfcf" stroke-width="1"/>
<circle cx="560.8" cy="618.0" r="13.5" fill="#f0f0f0" fill-opacity="0.5" stroke="#cfcfcf" stroke-width="1"/>
<circle cx="594.9" cy="618.0" r="13.5" fill="#f0f0f0" fill-opacity="0.5" stroke="#cfcfcf" stroke-width="1"/>
<polyline points="460.9,613.7 456.3,618.0 460.9,622.2" fill="none" stroke="#cdcdcd" stroke-width="1.7"/>
<line x1="488.9" y1="618.0" x2="496.9" y2="618.0" stroke="#cdcdcd" stroke-width="2"/>
<path d="M 529.90 614.55 A 4.6 4.6 0 1 0 530.30 620.95" fill="none" stroke="#cdcdcd" stroke-width="1.8"/>
<path d="M 532.60 613.15 l 0 3.5 l -3.6 0 z" fill="#cdcdcd"/>
<path d="M 556.3 618.0 h 9 M 560.8 613.5 v 9" fill="none" stroke="#cdcdcd" stroke-width="2"/>
<polyline points="592.9,613.7 597.5,618.0 592.9,622.2" fill="none" stroke="#cdcdcd" stroke-width="1.7"/>
</g>
<g>
<rect x="2.5" y="10.5" width="12" height="12" rx="2" fill="#fff" stroke="#707070" stroke-width="1"/>
<rect x="4.5" y="16" width="8.2" height="1" fill="#666" shape-rendering="crispEdges"/>
<text x="21.3" y="21.6" font-size="16" fill="#454545" stroke="#454545" stroke-width="0.4" textLength="45.8" lengthAdjust="spacingAndGlyphs">TESLA</text>
<text x="74.2" y="21.6" font-size="16" fill="#454545" stroke="#454545" stroke-width="0.4" textLength="28.3" lengthAdjust="spacingAndGlyphs">INC,</text>
<text x="110.2" y="21.6" font-size="16" fill="#454545" stroke="#454545" stroke-width="0.4" textLength="14.3" lengthAdjust="spacingAndGlyphs">D,</text>
<text x="131.3" y="21.6" font-size="16" fill="#454545" stroke="#454545" stroke-width="0.4" textLength="37.3" lengthAdjust="spacingAndGlyphs">BATS</text>
<path d="M174.4 15.2 h7.4 l-3.7 3.8 z" fill="#bdbdbd"/>
<rect x="192.2" y="9.3" width="13.8" height="13.4" fill="#e3e3e3"/>
<ellipse cx="199.1" cy="16" rx="4.7" ry="4.2" fill="#fff"/><circle cx="199.1" cy="16" r="2.5" fill="#e3e3e3"/><circle cx="199.1" cy="16" r="1.1" fill="#fff"/>
<rect x="209" y="9.3" width="14" height="13.4" fill="#e3e3e3"/>
<g fill="#fff"><rect x="214.70" y="10.60" width="2.6" height="10.8" transform="rotate(0 216.00 16.00)"/><rect x="214.70" y="10.60" width="2.6" height="10.8" transform="rotate(45 216.00 16.00)"/><rect x="214.70" y="10.60" width="2.6" height="10.8" transform="rotate(90 216.00 16.00)"/><rect x="214.70" y="10.60" width="2.6" height="10.8" transform="rotate(135 216.00 16.00)"/><circle cx="216.0" cy="16.0" r="3.9"/></g><circle cx="216.0" cy="16.0" r="1.7" fill="#e3e3e3"/>
</g>
<g font-size="11.7">
<text x="231.9" y="20.6" fill="#555" textLength="7.1" lengthAdjust="spacingAndGlyphs">O</text>
<text x="244.6" y="20.6" fill="#000" textLength="33.6" lengthAdjust="spacingAndGlyphs">347.20</text>
<text x="284.2" y="20.6" fill="#555" textLength="6.4" lengthAdjust="spacingAndGlyphs">H</text>
<text x="297.1" y="20.6" fill="#000" textLength="33.8" lengthAdjust="spacingAndGlyphs">347.24</text>
<text x="337.2" y="20.6" fill="#555" textLength="4.4" lengthAdjust="spacingAndGlyphs">L</text>
<text x="346.1" y="20.6" fill="#000" textLength="33.8" lengthAdjust="spacingAndGlyphs">326.33</text>
<text x="385.6" y="20.6" fill="#555" textLength="6.4" lengthAdjust="spacingAndGlyphs">C</text>
<text x="397.6" y="20.6" fill="#000" textLength="33.2" lengthAdjust="spacingAndGlyphs">327.09</text>
</g>
<circle cx="920.8" cy="15.6" r="7" fill="none" stroke="#f7954f" stroke-width="1.6"/>
<rect x="919.9" y="11.2" width="1.8" height="5.8" fill="#f7954f"/><rect x="919.9" y="18.2" width="1.8" height="1.8" fill="#f7954f"/>
<circle cx="937" cy="16" r="3" fill="#f7954f"/>
<text x="944.5" y="19.8" font-size="12" fill="#f7954f" textLength="60.5" lengthAdjust="spacing">Pre Market</text>
</svg>
</body></html>
